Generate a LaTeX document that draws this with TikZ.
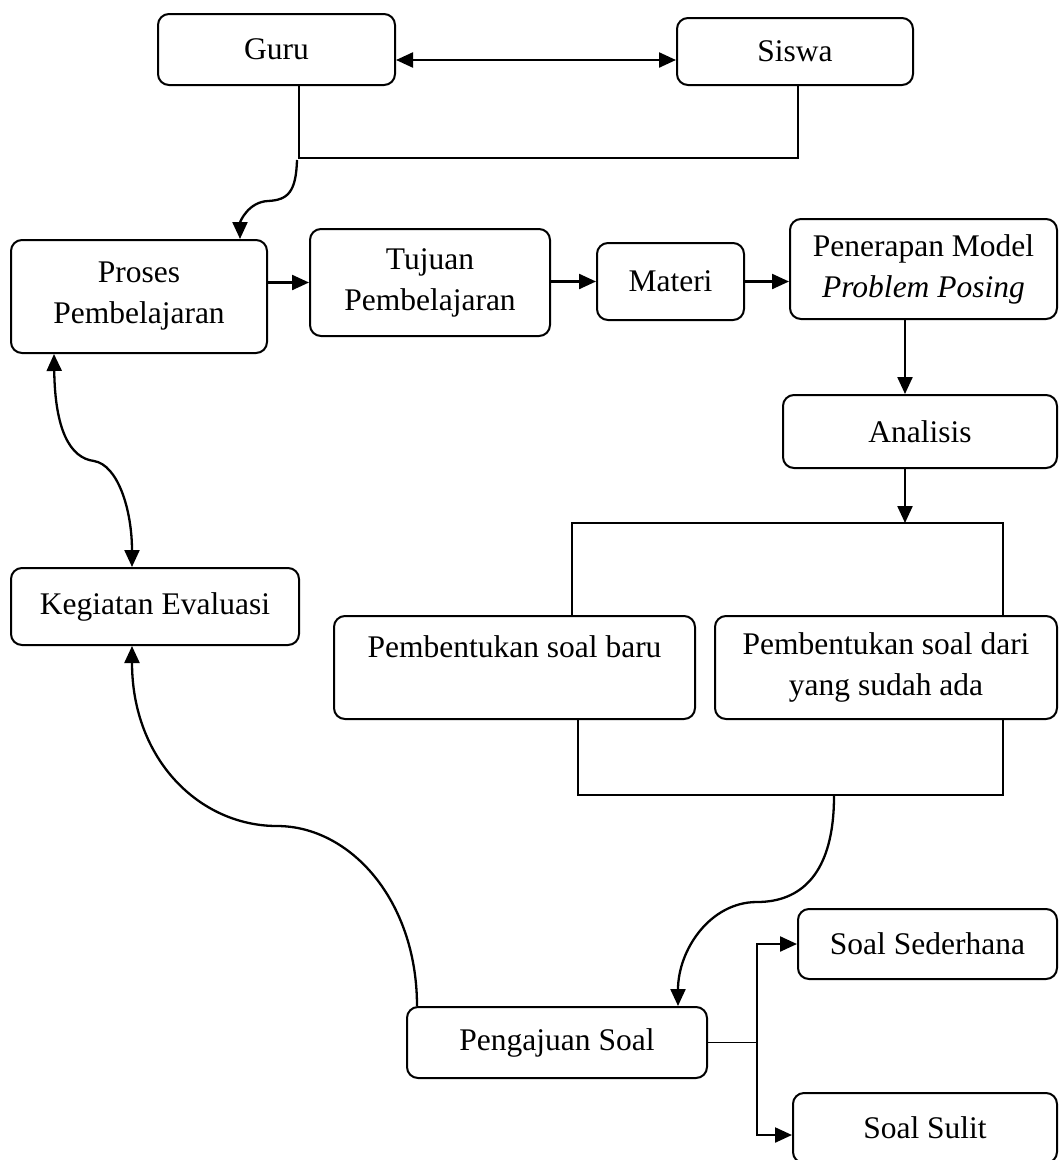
\documentclass[tikz,border=0pt]{standalone}
\usepackage{fontspec}
\setmainfont{Liberation Serif}
\usetikzlibrary{arrows.meta}
\begin{document}
\begin{tikzpicture}[x=1pt,y=-1pt,
  box/.style={draw, line width=2pt, rounded corners=11pt, align=center,
    font=\fontsize{31.5}{41}\selectfont, inner sep=0pt},
  conn/.style={line width=2.3pt, -{Triangle[length=17pt,width=15pt]}},
  dconn/.style={line width=2.3pt, {Triangle[length=17pt,width=15pt]}-{Triangle[length=17pt,width=15pt]}},
  thinl/.style={line width=1.5pt}]
\useasboundingbox (0,0) rectangle (1059,1160);

% nodes
\node[box, minimum width=237pt, minimum height=71pt] (guru) at (276.5,49.5) {Guru};
\node[box, minimum width=236pt, minimum height=67pt] (siswa) at (795,51.5) {Siswa};
\node[box, minimum width=256pt, minimum height=113pt] (proses) at (139,296.5) {Proses\\Pembelajaran};
\node[box, minimum width=240pt, minimum height=107pt] (tujuan) at (430,282.5) {Tujuan\\Pembelajaran};
\node[box, minimum width=147pt, minimum height=77pt] (materi) at (670.5,281.5) {Materi};
\node[box, minimum width=267pt, minimum height=100pt] (pen) at (923.5,269) {Penerapan Model\\\textit{Problem Posing}};
\node[box, minimum width=274pt, minimum height=73pt] (ana) at (920,431.5) {Analisis};
\node[box, minimum width=361pt, minimum height=103pt] (baru) at (514.5,667.5) {Pembentukan soal baru\\\mbox{}};
\node[box, minimum width=342pt, minimum height=103pt] (dari) at (886,667.5) {Pembentukan soal dari\\yang sudah ada};
\node[box, minimum width=288pt, minimum height=77pt] (keg) at (155,606.5) {Kegiatan Evaluasi};
\node[box, minimum width=300pt, minimum height=71pt] (peng) at (557,1042.5) {Pengajuan Soal};
\node[box, minimum width=259pt, minimum height=70pt] (sed) at (927.5,944) {Soal Sederhana};
\node[box, minimum width=264pt, minimum height=70pt] (sul) at (925,1128) {Soal Sulit};

% coordinates
\coordinate (j1) at (299,158);
\coordinate (j2) at (798,158);
\coordinate (c1) at (297,160);
\coordinate (ax) at (905,400);
\coordinate (b1) at (905,523);
\coordinate (bl) at (572,523);
\coordinate (br) at (1003,523);
\coordinate (cl) at (578,795);
\coordinate (cr) at (1003,795);
\coordinate (c2) at (834,796);
\coordinate (k) at (757,1042.5);

% top
\draw[dconn] ([yshift=-10.5pt]guru.east) -- ([yshift=-8.5pt]siswa.west);
\draw[thinl] ([xshift=22.5pt]guru.south) -- (j1) -- (j2) -- ([xshift=3pt]siswa.south);
\draw[conn] (c1) .. controls (296,192) and (288,200) .. (268,201)
  .. controls (248,202) and (240,222) .. ([xshift=101pt]proses.north);

% row
\draw[conn] (proses.east |- tujuan.west) -- (tujuan.west);
\draw[conn] (tujuan.east |- materi.west) -- (materi.west);
\draw[conn] (materi.east) -- (materi.east -| pen.west);
\draw[conn] (pen.south -| ax) -- (ana.north -| ax);
\draw[conn] (ana.south -| b1) -- (b1);

% brackets
\draw[thinl] (baru.north -| bl) -- (bl) -- (br) -- (dari.north -| br);
\draw[thinl] (baru.south -| cl) -- (cl) -- (cr) -- (dari.south -| cr);
\draw[conn] (c2) .. controls (834,875) and (800,902) .. (757,902)
  .. controls (710,902) and (678,950) .. ([xshift=121pt]peng.north);

% branch
\draw[thinl] (peng.east) -- (k);
\draw[conn] (k) |- (sed.west);
\draw[conn] (k) |- ([yshift=-7pt]sul.west);

% left curves
\draw[dconn] ([xshift=-85pt]proses.south) .. controls (55,430) and (70,458) .. (94,461)
  .. controls (118,465) and (132,510) .. ([xshift=-23pt]keg.north);
\draw[conn] ([xshift=-140pt]peng.north) .. controls (417,900) and (350,826) .. (277,826)
  .. controls (200,826) and (132,760) .. ([xshift=-23pt]keg.south);
\end{tikzpicture}
\end{document}
